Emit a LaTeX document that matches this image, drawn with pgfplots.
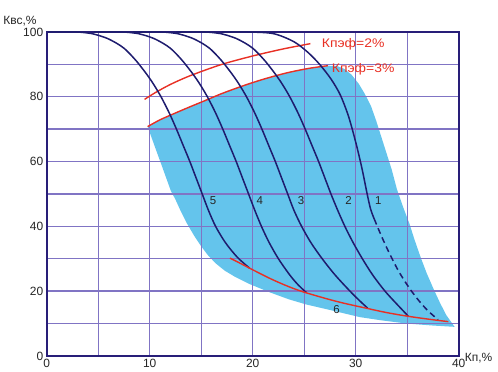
\documentclass[border=0pt]{standalone}
\usepackage{fontspec}
\setmainfont{Liberation Sans}
\usepackage{pgfplots}
\pgfplotsset{compat=1.18}
\definecolor{navy}{RGB}{30,28,110}
\definecolor{redc}{RGB}{232,48,36}
\definecolor{skyb}{RGB}{100,196,236}
\definecolor{gridc}{RGB}{128,116,196}
\definecolor{framec}{RGB}{40,30,120}
\begin{document}
\begin{tikzpicture}
\begin{axis}[
  set layers,
  clip mode=individual,
  scale only axis, width=412bp, height=324bp,
  at={(0,0)}, anchor=south west,
  xmin=0, xmax=40, ymin=0, ymax=100,
  xtick={0,10,20,30,40}, minor xtick={5,15,25,35},
  ytick={0,20,40,60,80,100}, minor ytick={10,30,50,70,90},
  grid=both,
  major grid style={draw=gridc, line width=1.4bp},
  minor grid style={draw=gridc, line width=1.4bp},
  major tick length=0pt, minor tick length=0pt,
  axis line style={draw=framec, line width=1.8bp},
  /pgf/number format/assume math mode=true,
  tick label style={font=\fontsize{12}{14}\selectfont, text=black!85},
]
% shaded region
\addplot[on layer=axis background, fill=skyb, draw=none] coordinates {
 (9.8,70.8) (11,72.9) (12.5,75.0) (13.9,76.9) (15.5,79.0) (17,81.0) (18.8,83.1)
 (20.5,84.9) (22,86.3) (23.6,87.6) (25.5,88.8) (27.3,89.6) (28.2,89.5) (28.9,88.6)
 (29.6,86.8) (30.3,84.0) (30.9,80.8) (31.5,77) (32.0,72.5) (32.5,67.5) (33.0,62.5)
 (33.5,57.5) (34.0,51.5) (34.6,46.0) (35.2,41) (35.7,36) (36.3,30.5) (36.9,25.5)
 (37.6,20.4) (38.2,16.3) (38.8,12.6) (39.6,9.0)
 (37.5,9.4) (35,10.0) (32.5,11.0) (30.4,12.0) (27.5,14.2) (25.2,15.9) (23.5,17.5)
 (21.7,19.6) (19.7,22.2) (18.3,24.4) (17.3,26.3) (16.4,28.6) (15.6,31.3) (14.9,34.3)
 (14.3,37.2) (13.6,41) (13.0,44.8) (12.5,48.3) (12.05,51) (11.2,58.5) (10.5,64.6)
 (9.8,70.8)
} -- cycle;
% Kpef = 2%
\addplot[redc, line width=1.4bp, smooth] coordinates {
 (9.5,79.2) (10.5,81.2) (12,83.8) (14,86.6) (17,90) (20,92.6) (23,94.8) (25.6,96.4)
};
% Kpef = 3%
\addplot[redc, line width=1.4bp, smooth] coordinates {
 (9.8,70.8) (11,72.9) (12.5,75.0) (13.9,76.9) (15.5,79.0) (17,81.0) (18.8,83.1)
 (20.5,84.9) (22,86.3) (23.6,87.6) (25.5,88.8) (27.3,89.6)
};
% curve 5
\addplot[navy, line width=1.5bp, smooth] coordinates {
 (0.1,100) (2.9,100) (4.4,99.5) (5.0,99) (5.9,98) (6.8,96.5) (7.5,95) (8.15,93)
 (8.85,90.5) (9.7,87) (10.35,84) (11.1,80) (11.9,75) (12.6,70) (13.25,65) (13.9,60)
 (14.5,55) (15.1,50) (15.7,45) (16.4,40) (17.35,35) (18.5,30.5) (19.7,27.1)
};
% curve 4
\addplot[navy, line width=1.5bp, smooth] coordinates {
 (4.6,100) (7.4,100) (8.9,99.5) (9.5,99) (10.4,98) (11.3,96.5) (12.0,95) (12.65,93)
 (13.35,90.5) (14.2,87) (14.85,84) (15.6,80) (16.4,75) (17.1,70) (17.75,65) (18.4,60)
 (19.0,55) (19.6,50) (20.2,45) (20.85,40) (21.6,35) (22.5,30) (23.6,25) (24.4,22)
 (25.2,19.6)
};
% curve 3
\addplot[navy, line width=1.5bp, smooth] coordinates {
 (8.4,100) (11.2,100) (12.7,99.5) (13.3,99) (14.2,98) (15.1,96.5) (15.8,95) (16.45,93)
 (17.15,90.5) (18.0,87) (18.65,84) (19.4,80) (20.2,75) (20.9,70) (21.55,65) (22.2,60)
 (22.8,55) (23.4,50) (24.0,45) (24.75,40) (25.65,35) (26.75,30) (28.0,25) (29.45,20)
 (30.4,17) (31.15,14.8)
};
% curve 2
\addplot[navy, line width=1.5bp, smooth] coordinates {
 (12.6,100) (15.4,100) (16.9,99.5) (17.5,99) (18.4,98) (19.3,96.5) (20.0,95) (20.65,93)
 (21.35,90.5) (22.2,87) (22.85,84) (23.6,80) (24.4,75) (25.1,70) (25.75,65) (26.4,60)
 (27.0,55) (27.6,50) (28.25,45) (28.95,40) (29.75,35) (30.65,30) (31.65,25) (32.85,20)
 (34.0,16) (35.1,12.3)
};
% curve 1 (solid)
\addplot[navy, line width=1.5bp, smooth] coordinates {
 (17,100) (19.5,100) (22,99.5) (24,97) (25.4,93.6) (26.5,90) (27.6,85.5) (28.5,80.6)
 (29.3,74) (30.0,66) (30.6,58) (31.1,50.2) (31.45,45.3) (31.8,42.3)
};
% curve 1 (dashed)
\addplot[navy, line width=1.5bp, smooth, dash pattern=on 6bp off 4bp] coordinates {
 (31.8,42.3) (32.5,37) (33.3,31.5) (34.2,26) (35.2,21) (36.1,17.2) (37.0,14.0)
 (38.0,11.2)
};
% curve 6
\addplot[redc, line width=1.4bp, smooth] coordinates {
 (17.8,30.2) (18.8,28.6) (19.7,27.1) (21.7,23.9) (23.5,21.4) (25.2,19.5) (28.2,16.8)
 (31.1,14.7) (33,13.4) (35,12.3) (37,11.4) (39,10.6)
};
% labels
\node[anchor=west, inner sep=0, text=redc, font=\fontsize{12.5}{14}\selectfont]
  at (axis cs:26.7,96.2) {\scalebox{1.12}[1]{Кпэф=2\%}};
\node[anchor=west, inner sep=0, text=redc, font=\fontsize{12.5}{14}\selectfont]
  at (axis cs:27.67,88.6) {\scalebox{1.12}[1]{Кпэф=3\%}};
\node[inner sep=0, font=\fontsize{11.5}{13}\selectfont, text=black!85] at (axis cs:16.15,48.1) {5};
\node[inner sep=0, font=\fontsize{11.5}{13}\selectfont, text=black!85] at (axis cs:20.7,48.1) {4};
\node[inner sep=0, font=\fontsize{11.5}{13}\selectfont, text=black!85] at (axis cs:24.7,48.1) {3};
\node[inner sep=0, font=\fontsize{11.5}{13}\selectfont, text=black!85] at (axis cs:29.3,48.1) {2};
\node[inner sep=0, font=\fontsize{11.5}{13}\selectfont, text=black!85] at (axis cs:32.2,48.1) {1};
\node[inner sep=0, font=\fontsize{11.5}{13}\selectfont, text=black!85] at (axis cs:28.15,14.3) {6};
\node[anchor=east, inner sep=0, font=\fontsize{12}{14}\selectfont, text=black!85,
  xshift=-10bp, yshift=11bp] at (rel axis cs:0,1) {Квс,\%};
\node[anchor=west, inner sep=0, font=\fontsize{12}{14}\selectfont, text=black!85,
  xshift=6bp, yshift=-2bp] at (rel axis cs:1,0) {Кп,\%};
\end{axis}
\pgfresetboundingbox
\useasboundingbox (-46.7bp,-16bp) rectangle (451.3bp,356bp);
\end{tikzpicture}
\end{document}
